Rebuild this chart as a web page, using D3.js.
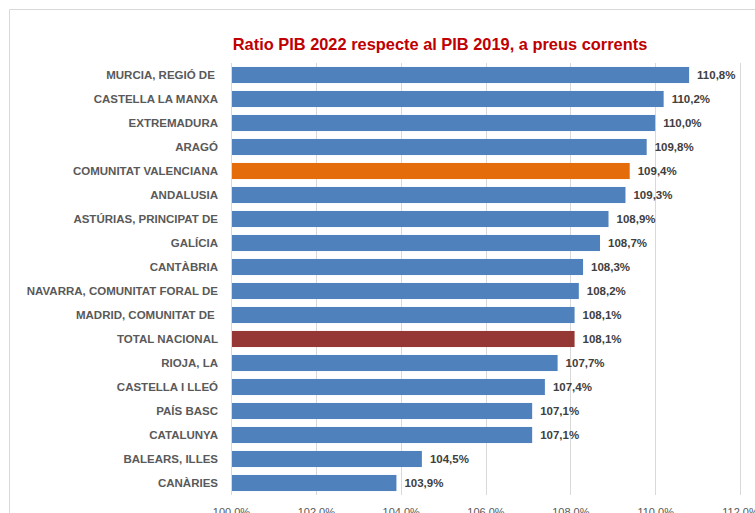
<!DOCTYPE html>
<html>
<head>
<meta charset="utf-8">
<script src="https://cdn.jsdelivr.net/npm/d3@7"></script>
<style>
    body { margin: 0; background: #fff; }
    svg { display: block; }
    text { font-family: "Liberation Sans", Arial, sans-serif; }
</style>
</head>
<body>
<svg id="chart" width="755" height="513"></svg>
<script>
    var categories = [
        'MURCIA, REGIÓ DE ', 'CASTELLA LA MANXA', 'EXTREMADURA', 'ARAGÓ',
        'COMUNITAT VALENCIANA', 'ANDALUSIA', 'ASTÚRIAS, PRINCIPAT DE', 'GALÍCIA',
        'CANTÀBRIA', 'NAVARRA, COMUNITAT FORAL DE', 'MADRID, COMUNITAT DE ', 'TOTAL NACIONAL',
        'RIOJA, LA', 'CASTELLA I LLEÓ', 'PAÍS BASC', 'CATALUNYA',
        'BALEARS, ILLES', 'CANÀRIES'
    ];
    var values = [
        110.8, 110.2, 110.0, 109.8,
        109.4, 109.3, 108.9, 108.7,
        108.3, 108.2, 108.1, 108.1,
        107.7, 107.4, 107.1, 107.1,
        104.5, 103.9
    ];
    var ticks = [100, 102, 104, 106, 108, 110, 112];
    var highlight = {
        'COMUNITAT VALENCIANA': '#E46C0A',
        'TOTAL NACIONAL': '#953735'
    };

(function(){
    'use strict';

    var svg = d3.select( '#chart' ),
        left = 231,
        right = 740,
        plotTop = 63,
        plotBottom = 495;

    var fmt = function( v ){
        return v.toFixed(1).replace( '.', ',' ) + '%';
    };

    var x = d3.scaleLinear().domain( [100, 112] ).range( [left, right] ),
        y = d3.scaleBand().domain( categories ).range( [plotTop, plotBottom] ).paddingInner( 0.33 ).paddingOuter( 0.165 );

    var rows = categories.map( function( c, i ){
        return { name: c, value: values[i] };
    });

    // outer frame (cropped on the right and bottom)
    svg.append( 'path' )
        .attr( 'd', 'M9.5,520 V9.5 H760' )
        .attr( 'fill', 'none' )
        .attr( 'stroke', '#D9D9D9' );

    svg.append( 'text' )
        .attr( 'x', 440 )
        .attr( 'y', 50 )
        .attr( 'text-anchor', 'middle' )
        .style( 'font-size', '16.4px' )
        .style( 'font-weight', 'bold' )
        .attr( 'fill', '#C00000' )
        .text( 'Ratio PIB 2022 respecte al PIB 2019, a preus corrents' );

    // gridlines
    svg.append( 'g' )
        .selectAll( 'line' )
        .data( ticks )
        .join( 'line' )
        .attr( 'x1', function( d ){ return Math.round( x(d) ) + 0.5; } )
        .attr( 'x2', function( d ){ return Math.round( x(d) ) + 0.5; } )
        .attr( 'y1', plotTop )
        .attr( 'y2', plotBottom )
        .attr( 'stroke', '#D9D9D9' );

    var xAxis = svg.append( 'g' )
        .attr( 'transform', 'translate(0,' + plotBottom + ')' )
        .call( d3.axisBottom( x ).tickValues( ticks ).tickSize( 0 ).tickPadding( 13 ).tickFormat( fmt ) );
    xAxis.select( '.domain' ).remove();
    xAxis.selectAll( 'text' )
        .style( 'font-size', '11px' )
        .style( 'font-family', '"Liberation Sans", Arial, sans-serif' )
        .attr( 'fill', '#595959' );

    svg.append( 'g' )
        .selectAll( 'rect' )
        .data( rows )
        .join( 'rect' )
        .attr( 'x', x(100) + 1 )
        .attr( 'y', function( d ){ return y(d.name); } )
        .attr( 'width', function( d ){ return x(d.value) - x(100) - 1; } )
        .attr( 'height', y.bandwidth() )
        .attr( 'fill', function( d ){ return highlight[d.name] || '#4F81BD'; } );

    // value labels
    svg.append( 'g' )
        .selectAll( 'text' )
        .data( rows )
        .join( 'text' )
        .attr( 'x', function( d ){ return x(d.value) + 8; } )
        .attr( 'y', function( d ){ return y(d.name) + y.bandwidth() / 2; } )
        .attr( 'dy', '0.35em' )
        .style( 'font-size', '11.5px' )
        .style( 'font-weight', 'bold' )
        .attr( 'fill', '#404040' )
        .text( function( d ){ return fmt( d.value ); } );

    // category labels
    svg.append( 'g' )
        .selectAll( 'text' )
        .data( rows )
        .join( 'text' )
        .attr( 'x', left - 13 )
        .attr( 'y', function( d ){ return y(d.name) + y.bandwidth() / 2; } )
        .attr( 'dy', '0.35em' )
        .attr( 'text-anchor', 'end' )
        .style( 'white-space', 'pre' )
        .style( 'font-size', '11.5px' )
        .style( 'font-weight', 'bold' )
        .attr( 'fill', '#595959' )
        .text( function( d ){ return d.name; } );
})();
</script>
</body>
</html>
